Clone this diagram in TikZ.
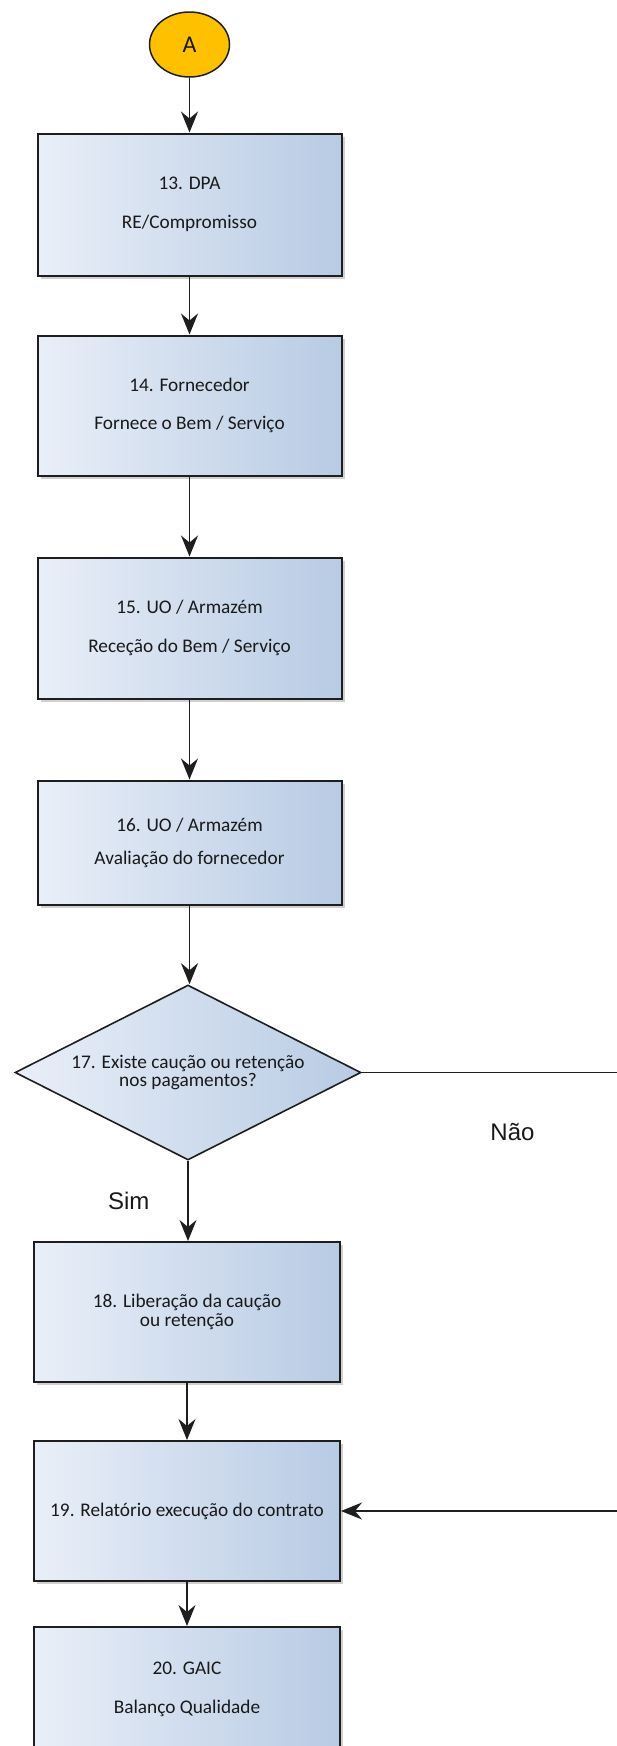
\documentclass[tikz,border=0pt]{standalone}
\usepackage{fontspec}
\setmainfont{Carlito}
\newfontfamily\arialfont{Liberation Sans}
\usetikzlibrary{shapes.geometric,arrows.meta,shadows}
\definecolor{boxL}{RGB}{233,239,248}
\definecolor{boxR}{RGB}{184,203,228}
\definecolor{edge}{RGB}{30,30,30}
\definecolor{txt}{RGB}{25,25,25}
\definecolor{circfill}{RGB}{255,192,0}
\begin{document}
\begin{tikzpicture}[x=1pt,y=-1pt,
  stepbox/.style={rectangle, draw=edge, line width=2pt, left color=boxL, right color=boxR,
    inner sep=0pt, align=center, text=txt, font=\fontsize{19.3}{19.5}\selectfont,
    drop shadow={shadow xshift=3pt, shadow yshift=-3pt, opacity=0.3, fill=black!60}},
  upper/.style={minimum width=304pt},
  lower/.style={minimum width=306pt},
  decision/.style={diamond, draw=edge, line width=1.6pt, left color=boxL, right color=boxR,
    inner sep=0pt, aspect=2, align=center, text=txt,
    font=\fontsize{19.3}{19.5}\selectfont},
  startcirc/.style={ellipse, draw=edge, line width=1.5pt, fill=circfill, inner sep=0pt,
    text=txt, font=\fontsize{24}{24}\selectfont},
  lbl/.style={text=txt, font=\arialfont\fontsize{24}{24}\selectfont, inner sep=0pt},
  conn/.style={line width=1.7pt, draw=edge, -{Stealth[length=21pt,width=17pt,inset=7pt]}}
]
\useasboundingbox (0,0) rectangle (617,1746);
\fill[white] (0,0) rectangle (617,1746);

\node[startcirc, minimum width=80pt, minimum height=65pt] (A) at (189.5,44.5) {A};

\node[stepbox, upper, minimum height=142pt] (b13) at (189.5,204.5) {13. DPA\\[19.5pt]RE/Compromisso};
\node[stepbox, upper, minimum height=140pt] (b14) at (189.5,405.5) {14. Fornecedor\\[19pt]Fornece o Bem / Serviço};
\node[stepbox, upper, minimum height=141pt] (b15) at (189.5,628) {15. UO / Armazém\\[19.5pt]Receção do Bem / Serviço};
\node[stepbox, upper, minimum height=124pt] (b16) at (189.5,842.5) {16. UO / Armazém\\[13.5pt]Avaliação do fornecedor};

\node[decision, minimum width=346pt, minimum height=175pt] (d17) at (188,1072.5) {17. Existe caução ou retenção\\[-1.5pt]nos pagamentos?};

\node[stepbox, lower, minimum height=140pt] (b18) at (187,1312) {18. Liberação da caução\\ou retenção};
\node[stepbox, lower, minimum height=140pt] (b19) at (187,1511) {19. Relatório execução do contrato};
\node[stepbox, lower, minimum height=124pt] (b20) at (187,1689) {20. GAIC\\[19.5pt]Balanço Qualidade};

\node[lbl, anchor=base] (nao) at (512.5,1140) {Não};
\node[lbl, anchor=base] (sim) at (128.7,1209) {Sim};

\draw[conn] (A.south) -- (A.south |- b13.north);
\draw[conn] (b13.south) -- (b13.south |- b14.north);
\draw[conn] (b14.south) -- (b14.south |- b15.north);
\draw[conn] (b15.south) -- (b15.south |- b16.north);
\draw[conn] (b16.south) -- (b16.south |- d17.north);
\draw[conn] (d17.south) -- (d17.south |- b18.north);
\draw[conn] (b18.south) -- (b18.south |- b19.north);
\draw[conn] (b19.south) -- (b19.south |- b20.north);
\draw[conn] (d17.east) -- ++(320,0) |- (b19.east);
\end{tikzpicture}
\end{document}
